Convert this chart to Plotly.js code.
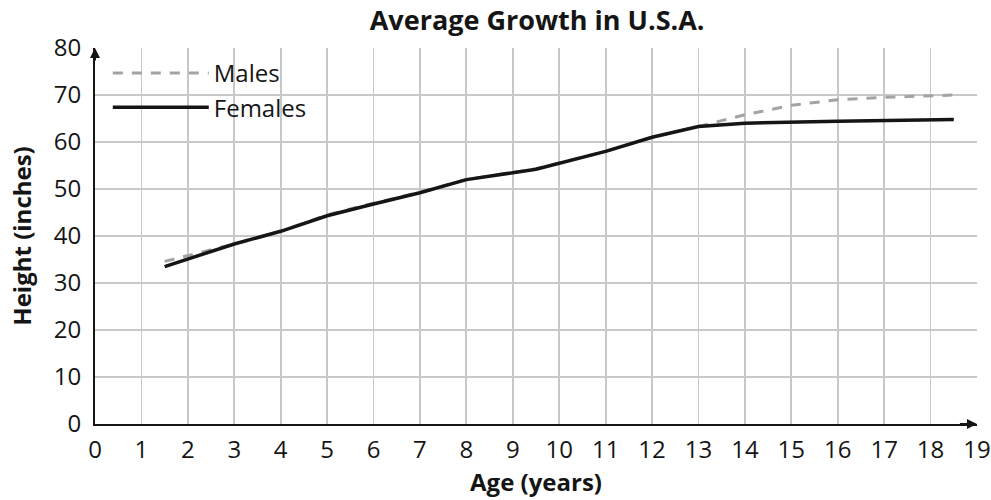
<!DOCTYPE html>
<html>
<head>
<meta charset="utf-8">
<script src="https://cdn.plot.ly/plotly-3.0.1.min.js"></script>
<style>html,body{margin:0;padding:0;background:#fff;}#chart{width:991px;height:500px;}</style>
</head>
<body>
<div id="chart"></div>
<script>
const ageFemales = [1.5, 3, 4, 5, 6, 7, 8, 9.5, 11, 12, 13, 14, 16, 18.5];
const heightFemales = [33.5, 38.3, 41, 44.3, 46.8, 49.2, 52, 54.2, 58, 61, 63.3, 64, 64.4, 64.8];
const ageMales = [1.5, 3, 4, 5, 6, 7, 8, 9.5, 11, 12, 13, 14, 15, 16, 17, 18.5];
const heightMales = [34.6, 38.3, 41, 44.5, 47, 49.3, 52, 54.3, 58, 61, 63.3, 65.8, 67.8, 69, 69.5, 70];
const xTicks = [0,1,2,3,4,5,6,7,8,9,10,11,12,13,14,15,16,17,18,19];
const yTicks = [0,10,20,30,40,50,60,70,80];

const font = "Open Sans, Noto Sans, sans-serif";

const traces = [
  {x: ageMales, y: heightMales, name: 'Males', mode: 'lines', legendgroup: 'm',
   line: {color: '#a3a3a3', width: 3, dash: '10px,9px'}},
  {x: ageFemales, y: heightFemales, name: 'Females', mode: 'lines', legendgroup: 'f',
   line: {color: '#151515', width: 3.5}}
];

const layout = {
  width: 991, height: 500,
  margin: {l: 95, r: 14, t: 48, b: 76},
  paper_bgcolor: '#fff', plot_bgcolor: '#fff',
  title: {text: '<b>Average Growth in U.S.A.</b>', x: 0.542, xanchor: 'center', y: 0.958, yanchor: 'middle',
          font: {family: font, size: 27, color: '#151515'}},
  xaxis: {range: [0, 19], tickvals: xTicks, ticktext: xTicks.map(String),
          showgrid: true, gridcolor: '#c8c8c8', gridwidth: 1.8,
          showline: true, linecolor: '#151515', linewidth: 2, zeroline: false,
          ticks: '', tickfont: {family: font, size: 24, color: '#151515'}, ticklabelstandoff: 3,
          ticklabeloverflow: 'allow',
          title: {text: '<b>Age (years)</b>', font: {family: font, size: 24, color: '#151515'}, standoff: 8}},
  yaxis: {range: [0, 80], tickvals: yTicks, ticktext: yTicks.map(String),
          showgrid: true, gridcolor: '#c8c8c8', gridwidth: 1.8,
          showline: true, linecolor: '#151515', linewidth: 2, zeroline: false,
          ticks: '', tickfont: {family: font, size: 24, color: '#151515'}, ticklabelstandoff: 7,
          ticklabeloverflow: 'allow',
          title: {text: '<b>Height (inches)</b>', font: {family: font, size: 24, color: '#151515'}, standoff: 15}},
  legend: {x: 0.0145, y: 0.992, xanchor: 'left', yanchor: 'top', bgcolor: 'rgba(0,0,0,0)',
           itemwidth: 96, font: {family: font, size: 24, color: '#151515'}, tracegroupgap: 0},
  showlegend: true,
  annotations: [
    {x: 19, y: 0, ax: 18.6, ay: 0, xref: 'x', yref: 'y', axref: 'x', ayref: 'y',
     showarrow: true, arrowhead: 2, arrowsize: 1, arrowwidth: 2, arrowcolor: '#151515', text: ''},
    {x: 0, y: 80, ax: 0, ay: 77, xref: 'x', yref: 'y', axref: 'x', ayref: 'y',
     showarrow: true, arrowhead: 2, arrowsize: 1, arrowwidth: 2, arrowcolor: '#151515', text: ''}
  ]
};

Plotly.newPlot('chart', traces, layout, {displayModeBar: false, staticPlot: true});
</script>
</body>
</html>
